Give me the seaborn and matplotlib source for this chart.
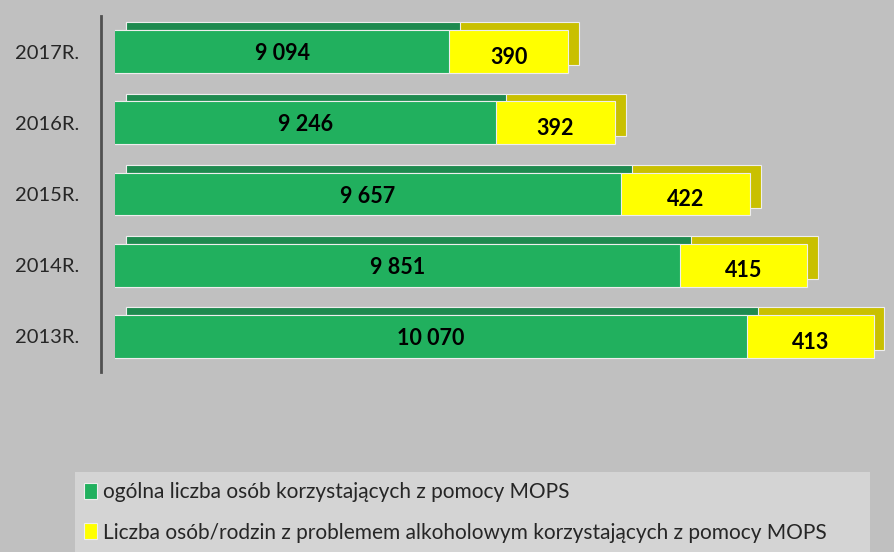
import matplotlib
matplotlib.use('Agg')
import matplotlib.pyplot as plt
import seaborn as sns
import pandas as pd
from matplotlib.patches import Patch

# dane
years = ['2017R.', '2016R.', '2015R.', '2014R.', '2013R.']
ogolna = [9094, 9246, 9657, 9851, 10070]
alkohol = [390, 392, 422, 415, 413]
labels_ogolna = ['9 094', '9 246', '9 657', '9 851', '10 070']
legend_labels = ['ogólna liczba osób korzystających z pomocy MOPS',
                 'Liczba osób/rodzin z problemem alkoholowym korzystających z pomocy MOPS']

sns.set_style('white')
plt.rcParams['font.family'] = ['Lato', 'DejaVu Sans']

bg = '#C0C0C0'
green, green_dark = '#21B05E', '#1E8A4F'
yellow, yellow_dark = '#FFFF00', '#C9C000'
edge = '#EEEEEE'

df = pd.DataFrame({'rok': years, 'ogolna': ogolna, 'alkohol': alkohol})
df['suma'] = df['ogolna'] + df['alkohol']

xmin, xmax = 8000, 10550

fig = plt.figure(figsize=(8.94, 5.52), dpi=100, facecolor=bg)
ax = fig.add_axes([115 / 894, 1 - 372 / 552, 779 / 894, 356 / 552])
ax.set_facecolor(bg)

# "tylna" ściana słupków - efekt 3D
dx, dy = 35, 0.11
pos = range(len(df))
ax.barh([p - dy for p in pos], df['suma'] - xmin, left=xmin + dx, height=0.6,
        color=yellow_dark, edgecolor=edge, linewidth=0.8, zorder=1)
ax.barh([p - dy for p in pos], df['ogolna'] - xmin, left=xmin + dx, height=0.6,
        color=green_dark, edgecolor=edge, linewidth=0.8, zorder=1)

# przednie ściany
sns.barplot(data=df, x='suma', y='rok', color=yellow, orient='h', width=0.6,
            edgecolor=edge, linewidth=0.8, saturation=1, ax=ax, zorder=2)
sns.barplot(data=df, x='ogolna', y='rok', color=green, orient='h', width=0.6,
            edgecolor=edge, linewidth=0.8, saturation=1, ax=ax, zorder=3)

ax.set_xlim(xmin, xmax)
ax.set_ylim(4.5, -0.5)

for i, row in df.iterrows():
    ax.text((xmin + row['ogolna']) / 2, i + 0.03, labels_ogolna[i], ha='center', va='center',
            fontsize=15.5, fontweight='bold', color='black', zorder=5)
    ax.text(row['ogolna'] + row['alkohol'] / 2, i + 0.08, str(row['alkohol']), ha='center',
            va='center', fontsize=15.5, fontweight='bold', color='black', zorder=5)

ax.set_xlabel('')
ax.set_ylabel('')
ax.set_xticks([])
ax.tick_params(axis='y', length=0, pad=16, labelsize=14.5)
for s in ['top', 'right', 'bottom']:
    ax.spines[s].set_visible(False)
ax.spines['left'].set_color('#505050')
ax.spines['left'].set_linewidth(2)
ax.spines['left'].set_position(('outward', 10))

handles = [Patch(facecolor=green, edgecolor=edge, linewidth=0.8),
           Patch(facecolor=yellow, edgecolor=edge, linewidth=0.8)]
leg = fig.legend(handles, legend_labels, loc='lower left',
                 bbox_to_anchor=(75 / 894, 0, 795 / 894, 84 / 552), mode='expand',
                 frameon=True, facecolor='#D4D4D4', edgecolor='none', fancybox=False,
                 fontsize=15, handlelength=0.6, handleheight=0.8, handletextpad=0.3,
                 labelspacing=1.0, borderpad=0.45, borderaxespad=0)
leg.get_frame().set_alpha(1)

fig.savefig('out.png', dpi=100, facecolor=bg)
